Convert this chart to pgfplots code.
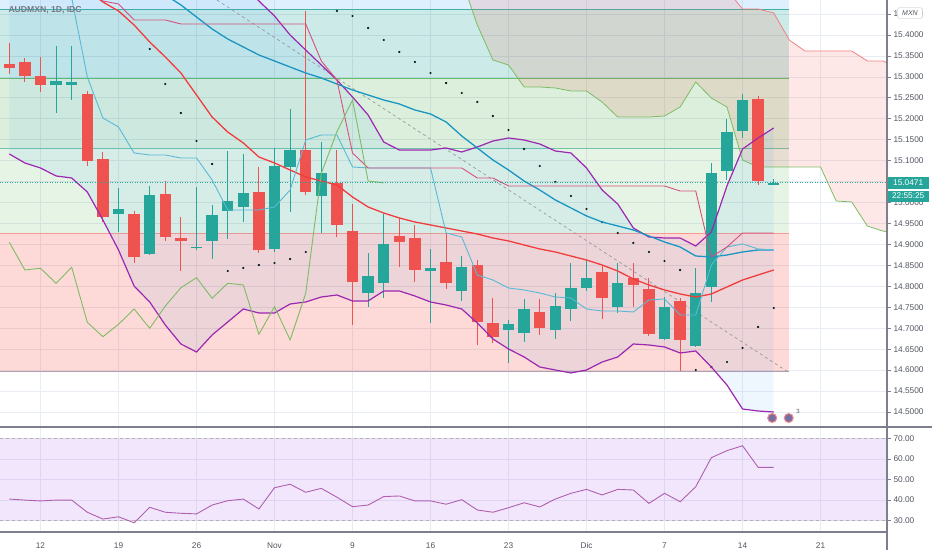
\documentclass[border=0pt]{standalone}
\usepackage{pgfplots}
\pgfplotsset{compat=1.18}
\usepackage{fontspec}
\setmainfont{Liberation Sans}
\definecolor{cRed}{RGB}{239,83,80}
\definecolor{cGreen}{RGB}{38,166,154}
\definecolor{cGrid}{RGB}{232,236,243}
\definecolor{cText}{RGB}{80,85,95}
\definecolor{cEmaR}{RGB}{242,60,60}
\definecolor{cEmaB}{RGB}{25,150,195}
\definecolor{cConv}{RGB}{90,185,215}
\definecolor{cBase}{RGB}{215,80,125}
\definecolor{cBB}{RGB}{156,39,176}
\definecolor{cLag}{RGB}{125,188,100}
\definecolor{cSpanB}{RGB}{240,130,130}
\definecolor{cTeal}{RGB}{0,150,136}
\definecolor{cFibG}{RGB}{76,175,80}
\definecolor{cFibR}{RGB}{244,67,54}
\definecolor{cFibB}{RGB}{33,150,243}
\definecolor{cRSI}{RGB}{175,95,175}
\definecolor{cRSIfill}{RGB}{155,80,230}
\definecolor{cSAR}{RGB}{40,140,165}
\definecolor{cAxis}{RGB}{125,128,140}
\begin{document}
\begin{tikzpicture}
\useasboundingbox (0,0) rectangle (932bp,550bp);
\begin{axis}[
 at={(0bp,550bp)}, anchor=north west,
 scale only axis, width=887bp, height=427bp,
 xmin=-0.596, xmax=56.26, ymin=14.4641, ymax=15.4837,
 xtick={2,7,...,52}, xticklabels={},
 ytick={14.5,14.55,14.6,14.65,14.7,14.75,14.8,14.85,14.9,14.95,15,15.05,15.1,15.15,15.2,15.25,15.3,15.35,15.4,15.45},
 yticklabel pos=right,
 grid=major, major grid style={cGrid, line width=0.8bp},
 axis line style={draw=none},
 xtick style={draw=none},
 ytick style={draw=cAxis, line width=0.8bp},
 tick align=outside, major tick length=3.5bp,
 yticklabel style={font=\fontsize{8.3bp}{10bp}\selectfont, text=cText, xshift=-0.5bp,
   /pgf/number format/fixed, /pgf/number format/fixed zerofill, /pgf/number format/precision=4,
   /pgf/number format/assume math mode=true},
 clip mode=individual,
]
% fib zones
\addplot[draw=none, fill=cFibB, fill opacity=0.15] coordinates {(-0.6,15.4615) (50,15.4615) (50,15.49) (-0.6,15.49)} -- cycle;
\addplot[draw=none, fill=cTeal, fill opacity=0.2] coordinates {(-0.6,15.2968) (50,15.2968) (50,15.4615) (-0.6,15.4615)} -- cycle;
\addplot[draw=none, fill=cFibG, fill opacity=0.2] coordinates {(-0.6,15.1296) (50,15.1296) (50,15.2968) (-0.6,15.2968)} -- cycle;
\addplot[draw=none, fill=cFibG, fill opacity=0.14] coordinates {(-0.6,14.9266) (50,14.9266) (50,15.1296) (-0.6,15.1296)} -- cycle;
\addplot[draw=none, fill=cFibR, fill opacity=0.2] coordinates {(-0.6,14.5962) (50,14.5962) (50,14.9266) (-0.6,14.9266)} -- cycle;
\addplot[color=cTeal!75, line width=1bp] coordinates {(-0.6,15.4615) (50,15.4615)};
\addplot[color=cFibG!85, line width=1bp] coordinates {(-0.6,15.2968) (50,15.2968)};
\addplot[color={rgb,255:red,115;green,195;blue,170}, line width=1bp] coordinates {(-0.6,15.1296) (50,15.1296)};
\addplot[color=cFibR!55, line width=1bp] coordinates {(-0.6,14.9266) (50,14.9266)};
\addplot[color={rgb,255:red,175;green,160;blue,178}, line width=1.3bp] coordinates {(-0.6,14.5962) (50,14.5962)};
% ichimoku cloud
\addplot[draw=none, fill=cFibR, fill opacity=0.12] coordinates {
(29,15.5315)(30,15.424)(31,15.3404)(32,15.3285)(33,15.276)(34,15.276)(35,15.2736)(36,15.2664)(37,15.2664)(38,15.240)(39,15.2043)(40,15.2043)(41,15.2043)(42,15.2067)(43,15.2282)(44,15.2879)(45,15.2497)(46,15.2282)(47,15.1017)(48,15.085)(49,15.085)(50,15.085)(51,15.085)(52,15.085)(53,15.0038)(54,15.0014)(55,14.944)(56,14.932)(56.3,14.930)
(56.3,15.333)(56,15.338)(55,15.338)(54,15.362)(53,15.362)(52,15.362)(51,15.362)(50,15.388)(49,15.4527)(48,15.4622)(47,15.4622)(46,15.508)(45,15.56)(29,15.56)} -- cycle;
\addplot[color=cLag, line width=0.8bp] coordinates {
(29,15.5315)(30,15.424)(31,15.3404)(32,15.3285)(33,15.276)(34,15.276)(35,15.2736)(36,15.2664)(37,15.2664)(38,15.240)(39,15.2043)(40,15.2043)(41,15.2043)(42,15.2067)(43,15.2282)(44,15.2879)(45,15.2497)(46,15.2282)(47,15.1017)(48,15.085)(49,15.085)(50,15.085)(51,15.085)(52,15.085)(53,15.0038)(54,15.0014)(55,14.944)(56,14.932)(56.3,14.930)};
\addplot[color=cSpanB, line width=0.8bp] coordinates {
(45,15.56)(46,15.508)(47,15.4622)(48,15.4622)(49,15.4527)(50,15.388)(51,15.362)(52,15.362)(53,15.362)(54,15.362)(55,15.338)(56,15.338)(56.3,15.333)};
% bollinger fill
\addplot[draw=none, fill=cFibB, fill opacity=0.08] coordinates {
(0,15.7703)(5,15.7225)(10,15.6509)(13,15.5792)(15,15.5171)(16,15.4813)(17,15.4455)(18,15.4001)(19,15.3643)(20,15.3285)(21,15.2927)(22,15.2521)(23,15.2091)(24,15.1446)(25,15.1255)(26,15.1255)(27,15.1255)(28,15.1303)(29,15.1208)(30,15.1327)(31,15.1470)(32,15.1542)(33,15.1494)(34,15.1399)(35,15.1232)(36,15.1184)(37,15.0826)(38,15.0300)(39,14.9966)(40,14.9393)(41,14.9178)(42,14.9154)(43,14.9154)(44,14.8963)(45,14.9297)(46,15.0396)(47,15.1279)(48,15.1542)(49,15.1781)
(49,14.4999)(48,14.5023)(47,14.5071)(46,14.5644)(45,14.6074)(44,14.6456)(43,14.6408)(42,14.6552)(41,14.6599)(40,14.6623)(39,14.6313)(38,14.6193)(37,14.6002)(36,14.5931)(35,14.6002)(34,14.6074)(33,14.6313)(32,14.6504)(31,14.6743)(30,14.7125)(29,14.7459)(28,14.7554)(27,14.7626)(26,14.7769)(25,14.7889)(24,14.7889)(23,14.7650)(22,14.7650)(21,14.7793)(20,14.7745)(19,14.7626)(18,14.7578)(17,14.7363)(16,14.7363)(15,14.7459)(14,14.7148)(13,14.6838)(12,14.6432)(11,14.6623)(10,14.7077)(9,14.7626)(8,14.8008)(7,14.8868)(6,14.9584)(5,15.0253)(4,15.0587)(3,15.0635)(2,15.0826)(1,15.0945)(0,15.1160)} -- cycle;
% trend line
\addplot[color=black!40, line width=0.7bp, dash pattern=on 3bp off 3bp] coordinates {(13.31,15.4837)(49.92,14.5955)};
% SAR dots
\addplot[only marks, mark=*, mark size=0.9bp, mark options={fill=cSAR, draw=none}] coordinates {
(9,15.3667)(10,15.2831)(11,15.2139)(12,15.1470)(13,15.0921)
(14,14.8366)(15,14.8438)(16,14.8509)(17,14.8557)(18,14.8653)(19,14.8820)
(21,15.4575)(22,15.4455)(23,15.4169)(24,15.3882)(25,15.3596)(26,15.3357)(27,15.3094)(28,15.2855)(29,15.2617)(30,15.2402)(31,15.2067)(32,15.1733)(33,15.1279)(34,15.0873)(35,15.0491)(36,15.0157)(37,14.9847)(38,14.9536)(39,14.9274)(40,14.9035)(41,14.8820)(42,14.8605)(43,14.8390)
(44,14.6002)(45,14.6074)(46,14.6193)(47,14.6528)(48,14.7029)(49,14.7483)};
% candles: wicks
\addplot[color=cRed, line width=1bp, unbounded coords=jump] coordinates {
(0,15.3818)(0,15.3070)(0,nan)(1,15.3452)(1,15.2872)(1,nan)(2,15.3483)(2,15.2648)(2,nan)(5,15.2671)(5,15.0873)(5,nan)(6,15.1215)(6,14.9536)(6,nan)(8,14.9806)(8,14.8550)(8,nan)(10,15.0522)(10,14.9090)(10,nan)(11,14.9663)(11,14.8373)(11,nan)(16,15.0857)(16,14.8803)(16,nan)(19,15.4575)(19,15.0181)(19,nan)(21,15.1255)(21,14.9171)(21,nan)(22,14.9966)(22,14.7077)(22,nan)(25,14.9625)(25,14.8469)(25,nan)(26,14.9465)(26,14.8111)(26,nan)(28,14.9266)(28,14.7929)(28,nan)(30,14.8629)(30,14.6599)(30,nan)(31,14.7714)(31,14.6640)(31,nan)(34,14.7698)(34,14.6838)(34,nan)(38,14.8486)(38,14.7213)(38,nan)(40,14.8550)(40,14.7514)(40,nan)(41,14.8192)(41,14.6814)(41,nan)(43,14.7714)(43,14.5986)(43,nan)(48,15.2552)(48,15.0420)};
\addplot[color=cGreen, line width=1bp, unbounded coords=jump] coordinates {
(3,15.3739)(3,15.2132)(3,nan)(4,15.3739)(4,15.2449)(4,nan)(7,15.0341)(7,14.9305)(7,nan)(9,15.0396)(9,14.8748)(9,nan)(12,15.0379)(12,14.8868)(12,nan)(13,14.9942)(13,14.8646)(13,nan)(14,15.1232)(14,14.9123)(14,nan)(15,15.1160)(15,14.9543)(15,nan)(17,15.1310)(17,14.8827)(17,nan)(18,15.2234)(18,14.9782)(18,nan)(20,15.1439)(20,14.9281)(20,nan)(23,14.8789)(23,14.7514)(23,nan)(24,14.9727)(24,14.7729)(24,nan)(27,14.8884)(27,14.7117)(27,nan)(29,14.8724)(29,14.7657)(29,nan)(32,14.7196)(32,14.6177)(32,nan)(33,14.7698)(33,14.6678)(33,nan)(35,14.7834)(35,14.6735)(35,nan)(36,14.8550)(36,14.7172)(36,nan)(37,14.8629)(37,14.7889)(37,nan)(39,14.8550)(39,14.7356)(39,nan)(42,14.7738)(42,14.6719)(42,nan)(44,14.8431)(44,14.6559)(44,nan)(45,15.0938)(45,14.7633)(45,nan)(46,15.1989)(46,15.0539)(46,nan)(47,15.2593)(47,15.1542)(47,nan)(49,15.0556)(49,15.0427)};
% candles: bodies
\addplot[color=cRed, line width=11.5bp, unbounded coords=jump] coordinates {
(0,15.3302)(0,15.3221)(0,nan)(1,15.3350)(1,15.3022)(1,nan)(2,15.3015)(2,15.2800)(2,nan)(5,15.2585)(5,15.0993)(5,nan)(6,15.1033)(6,14.9648)(6,nan)(8,14.9734)(8,14.8708)(8,nan)(10,15.0212)(10,14.9185)(10,nan)(11,14.9147)(11,14.9090)(11,nan)(16,15.0260)(16,14.8868)(16,nan)(19,15.1255)(19,15.0245)(19,nan)(21,15.0460)(21,14.9465)(21,nan)(22,14.9329)(22,14.8096)(22,nan)(25,14.9202)(25,14.9052)(25,nan)(26,14.9161)(26,14.8390)(26,nan)(28,14.8588)(28,14.8073)(28,nan)(30,14.8509)(30,14.7141)(30,nan)(31,14.7117)(31,14.6797)(31,nan)(34,14.7394)(34,14.6998)(34,nan)(38,14.8335)(38,14.7714)(38,nan)(40,14.8192)(40,14.8032)(40,nan)(41,14.7929)(41,14.6855)(41,nan)(43,14.7650)(43,14.6719)(43,nan)(48,15.2466)(48,15.0515)};
\addplot[color=cGreen, line width=11.5bp, unbounded coords=jump] coordinates {
(3,15.2800)(3,15.2896)(3,nan)(4,15.2815)(4,15.2872)(4,nan)(7,14.9734)(7,14.9854)(7,nan)(9,14.8772)(9,15.0181)(9,nan)(12,14.8908)(12,14.8946)(12,nan)(13,14.9090)(13,14.9703)(13,nan)(14,14.9799)(14,15.0038)(14,nan)(15,14.9894)(15,15.0236)(15,nan)(17,14.8892)(17,15.0881)(17,nan)(18,15.0857)(18,15.1255)(18,nan)(20,15.0164)(20,15.0713)(20,nan)(23,14.7848)(23,14.8254)(23,nan)(24,14.8073)(24,14.9011)(24,nan)(27,14.8373)(27,14.8431)(27,nan)(29,14.7896)(29,14.8455)(29,nan)(32,14.6957)(32,14.7093)(32,nan)(33,14.6879)(33,14.7459)(33,nan)(35,14.6957)(35,14.7530)(35,nan)(36,14.7452)(36,14.7967)(36,nan)(37,14.7967)(37,14.8206)(37,nan)(39,14.7514)(39,14.8073)(39,nan)(42,14.6742)(42,14.7514)(42,nan)(44,14.6583)(44,14.7834)(44,nan)(45,14.7991)(45,15.0699)(45,nan)(46,15.0761)(46,15.1692)(46,nan)(47,15.1709)(47,15.2449)(47,nan)(49,15.0427)(49,15.0471)};
% bollinger lines
\addplot[color=cBB, line width=1.2bp] coordinates {
(15,15.5171)(16,15.4813)(17,15.4455)(18,15.4001)(19,15.3643)(20,15.3285)(21,15.2927)(22,15.2521)(23,15.2091)(24,15.1446)(25,15.1255)(26,15.1255)(27,15.1255)(28,15.1303)(29,15.1208)(30,15.1327)(31,15.1470)(32,15.1542)(33,15.1494)(34,15.1399)(35,15.1232)(36,15.1184)(37,15.0826)(38,15.0300)(39,14.9966)(40,14.9393)(41,14.9178)(42,14.9154)(43,14.9154)(44,14.8963)(45,14.9297)(46,15.0396)(47,15.1279)(48,15.1542)(49,15.1781)};
\addplot[color=cBB, line width=1.2bp] coordinates {
(0,15.1160)(1,15.0945)(2,15.0826)(3,15.0635)(4,15.0587)(5,15.0253)(6,14.9584)(7,14.8868)(8,14.8008)(9,14.7626)(10,14.7077)(11,14.6623)(12,14.6432)(13,14.6838)(14,14.7148)(15,14.7459)(16,14.7363)(17,14.7363)(18,14.7578)(19,14.7626)(20,14.7745)(21,14.7793)(22,14.7650)(23,14.7650)(24,14.7889)(25,14.7889)(26,14.7769)(27,14.7626)(28,14.7554)(29,14.7459)(30,14.7125)(31,14.6743)(32,14.6504)(33,14.6313)(34,14.6074)(35,14.6002)(36,14.5931)(37,14.6002)(38,14.6193)(39,14.6313)(40,14.6623)(41,14.6599)(42,14.6552)(43,14.6408)(44,14.6456)(45,14.6074)(46,14.5644)(47,14.5071)(48,14.5023)(49,14.4999)};
% moving averages
\addplot[color=cEmaB, line width=1.3bp] coordinates {
(8,15.5673)(9,15.5434)(10,15.4957)(11,15.4718)(12,15.4431)(13,15.4145)(14,15.3906)(15,15.3715)(16,15.3524)(17,15.3381)(18,15.3237)(19,15.3094)(20,15.2975)(21,15.2831)(22,15.2688)(23,15.2569)(24,15.2449)(25,15.2354)(26,15.2211)(27,15.2115)(28,15.1924)(29,15.1590)(30,15.1303)(31,15.1017)(32,15.0778)(33,15.0515)(34,15.0300)(35,15.0062)(36,14.9871)(37,14.9680)(38,14.9536)(39,14.9441)(40,14.9345)(41,14.9202)(42,14.9059)(43,14.8939)(44,14.8724)(45,14.8701)(46,14.8748)(47,14.8820)(48,14.8868)(49,14.8868)};
\addplot[color=cEmaR, line width=1.3bp] coordinates {
(4,15.5362)(5,15.5076)(6,15.4789)(7,15.4575)(8,15.4240)(9,15.3834)(10,15.3476)(11,15.3094)(12,15.2569)(13,15.2043)(14,15.1685)(15,15.1423)(16,15.1088)(17,15.0945)(18,15.0778)(19,15.0611)(20,15.0515)(21,15.0420)(22,15.0133)(23,14.9894)(24,14.9751)(25,14.9632)(26,14.9536)(27,14.9465)(28,14.9393)(29,14.9321)(30,14.9250)(31,14.9154)(32,14.9083)(33,14.8987)(34,14.8892)(35,14.8820)(36,14.8724)(37,14.8629)(38,14.8509)(39,14.8366)(40,14.8175)(41,14.8032)(42,14.7913)(43,14.7817)(44,14.7745)(45,14.7817)(46,14.7984)(47,14.8151)(48,14.8271)(49,14.8390)};
% ichimoku conversion / base / lagging
\addplot[color=cConv, line width=0.9bp] coordinates {
(3,15.5792)(4,15.4885)(5,15.2999)(6,15.2020)(7,15.1805)(8,15.1184)(9,15.1136)(10,15.1136)(11,15.1064)(12,15.1064)(13,15.0539)(14,14.9823)(15,14.9823)(16,14.9823)(17,14.9894)(18,15.0300)(19,15.1494)(20,15.1614)(21,15.1614)(22,15.0850)(23,15.0826)(24,15.0826)(25,15.0826)(26,15.0826)(27,15.0826)(28,14.9274)(29,14.9178)(30,14.8271)(31,14.8151)(32,14.7960)(33,14.7913)(34,14.7841)(35,14.7745)(36,14.7722)(37,14.7459)(38,14.7411)(39,14.7411)(40,14.7387)(41,14.7674)(42,14.7698)(43,14.7316)(44,14.7316)(45,14.8509)(46,14.8939)(47,14.9011)(48,14.8892)(49,14.8868)};
\addplot[color=cBase, line width=0.9bp] coordinates {
(5,15.5076)(6,15.4813)(7,15.4742)(8,15.4360)(9,15.4360)(10,15.4360)(11,15.4264)(12,15.4264)(13,15.4264)(14,15.4264)(15,15.4264)(16,15.4264)(17,15.4264)(18,15.4264)(19,15.4264)(20,15.3381)(21,15.2927)(22,15.1184)(23,15.0826)(24,15.0826)(25,15.0826)(26,15.0826)(27,15.0826)(28,15.0826)(29,15.0826)(30,15.0587)(31,15.0587)(32,15.0396)(33,15.0396)(34,15.0396)(35,15.0396)(36,15.0396)(37,15.0396)(38,15.0396)(39,15.0396)(40,15.0396)(41,15.0396)(42,15.0396)(43,15.0276)(44,15.0276)(45,14.8701)(46,14.8939)(47,14.9274)(48,14.9274)(49,14.9274)};
\addplot[color=cLag, line width=0.9bp] coordinates {
(0,14.9052)(1,14.8390)(2,14.8431)(3,14.8073)(4,14.8455)(5,14.7141)(6,14.6797)(7,14.7093)(8,14.7459)(9,14.6998)(10,14.7530)(11,14.7967)(12,14.8206)(13,14.7714)(14,14.8073)(15,14.8032)(16,14.6855)(17,14.7514)(18,14.6719)(19,14.7834)(20,15.0699)(21,15.1692)(22,15.2449)(23,15.0515)(24,15.0471)};
% last price line
\addplot[color=cGreen, line width=0.8bp, dash pattern=on 1bp off 1.5bp] coordinates {(-0.6,15.0471)(56.26,15.0471)};
% labels on price axis
\node[fill=cGreen, text=white, anchor=west, inner sep=1.5bp, minimum height=12.5bp, minimum width=42bp, font=\fontsize{8.3bp}{10bp}\selectfont] at (axis cs:56.26,15.0471) {15.0471};
\node[fill=cGreen, text=white, anchor=north west, inner sep=1.5bp, minimum height=11bp, minimum width=42bp, font=\fontsize{8.3bp}{10bp}\selectfont] at (axis cs:56.26,15.0290) {22:55:25};
% event icons
\node[circle, draw={rgb,255:red,240;green,140;blue,140}, line width=1bp, fill={rgb,255:red,120;green,110;blue,160}, minimum size=9bp, inner sep=0pt] at (axis cs:48.9,14.4856) {};
\node[circle, draw={rgb,255:red,240;green,140;blue,140}, line width=1bp, fill={rgb,255:red,120;green,110;blue,160}, minimum size=9bp, inner sep=0pt] at (axis cs:49.96,14.4856) {};
\node[font=\fontsize{6bp}{7bp}\selectfont, text=cText] at (axis cs:50.55,14.5016) {3};
\end{axis}
\begin{axis}[
 at={(0bp,123bp)}, anchor=north west,
 scale only axis, width=887bp, height=105bp,
 xmin=-0.596, xmax=56.26, ymin=24.51, ymax=75.49,
 xtick={2,7,...,52}, xticklabels={12,19,26,Nov,9,16,23,Dic,7,14,21},
 ytick={30,40,50,60,70},
 yticklabel pos=right,
 grid=major, major grid style={cGrid, line width=0.8bp},
 axis line style={draw=none},
 xtick style={draw=none},
 ytick style={draw=cAxis, line width=0.8bp},
 tick align=outside, major tick length=3.5bp,
 xticklabel style={font=\fontsize{8.3bp}{10bp}\selectfont, text=cText, yshift=-3bp, text height=6bp, text depth=0bp},
 yticklabel style={font=\fontsize{8.3bp}{10bp}\selectfont, text=cText, xshift=-0.5bp,
   /pgf/number format/fixed, /pgf/number format/fixed zerofill, /pgf/number format/precision=2,
   /pgf/number format/assume math mode=true},
 clip mode=individual,
]
\addplot[draw=none, fill=cRSIfill, fill opacity=0.14] coordinates {(-0.6,30)(56.26,30)(56.26,70)(-0.6,70)} -- cycle;
\addplot[color=black!30, line width=0.7bp, dash pattern=on 3bp off 3bp] coordinates {(-0.6,70)(56.26,70)};
\addplot[color=black!30, line width=0.7bp, dash pattern=on 3bp off 3bp] coordinates {(-0.6,30)(56.26,30)};
\addplot[color=cRSI, line width=0.9bp] coordinates {
(0,40.5)(1,40.0)(2,39.6)(3,40.0)(4,40.0)(5,34.1)(6,30.8)(7,31.9)(8,29.0)(9,36.5)(10,34.1)(11,33.6)(12,33.3)(13,37.6)(14,39.7)(15,40.5)(16,35.7)(17,46.0)(18,47.7)(19,43.8)(20,45.7)(21,41.4)(22,36.8)(23,37.6)(24,41.7)(25,42.0)(26,39.6)(27,39.6)(28,38.0)(29,40.2)(30,35.2)(31,34.1)(32,36.3)(33,38.7)(34,36.7)(35,40.5)(36,43.3)(37,45.2)(38,42.5)(39,45.2)(40,44.9)(41,38.4)(42,43.3)(43,39.2)(44,46.5)(45,60.6)(46,64.0)(47,66.4)(48,55.9)(49,55.9)};
\end{axis}
% panel frame
\draw[cAxis, line width=1.3bp] (0bp,123bp) -- (932bp,123bp);
\draw[cAxis, line width=1.3bp] (0bp,18bp) -- (887bp,18bp);
\draw[cAxis, line width=1.3bp] (887bp,0bp) -- (887bp,550bp);
% symbol title and currency box
\node[anchor=west, text={rgb,255:red,115;green,120;blue,130}, font=\fontsize{8.6bp}{10bp}\selectfont\bfseries] at (5bp,539.5bp) {AUDMXN, 1D, IDC};
\node[draw=black!25, fill=white, rounded corners=2bp, inner sep=0pt, minimum width=25bp, minimum height=10.5bp, text=cText, font=\fontsize{7bp}{8bp}\selectfont\itshape] at (910bp,537bp) {MXN};
\end{tikzpicture}
\end{document}
